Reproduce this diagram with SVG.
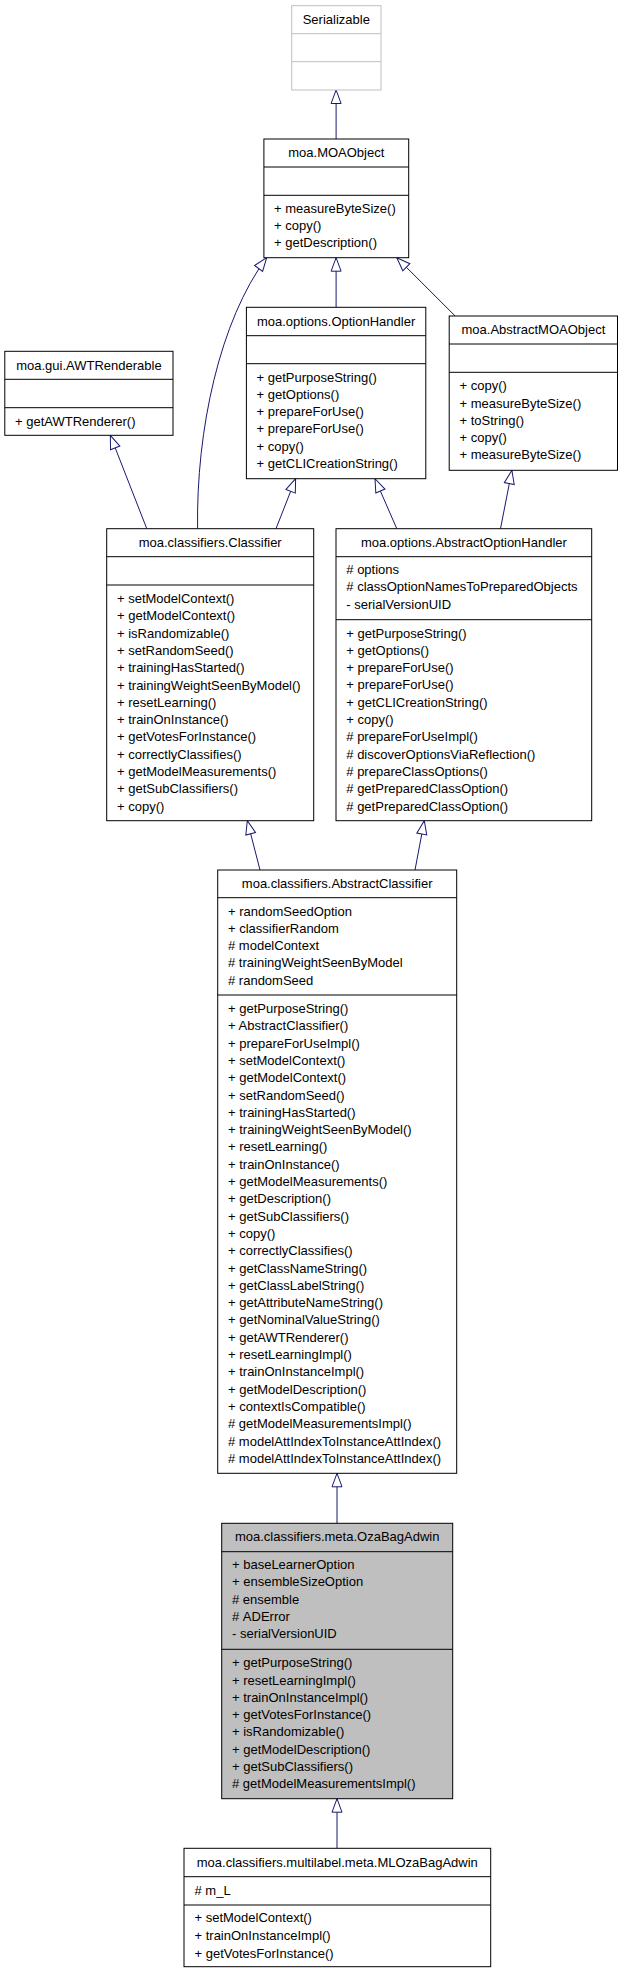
<svg xmlns="http://www.w3.org/2000/svg" width="624" height="1973" viewBox="0 0 624 1973">
<style>
.box{fill:#ffffff;stroke:#000000;stroke-width:1}
.gbox{fill:#ffffff;stroke:#bfbfbf;stroke-width:1}
.hbox{fill:#bfbfbf;stroke:#000000;stroke-width:1}
.sep{stroke:#000000;stroke-width:1}
.gsep{stroke:#bfbfbf;stroke-width:1}
text{font-family:"Liberation Sans",Arial,Helvetica,sans-serif;font-size:13px;fill:#000000}
.t{text-anchor:middle}
.edge{fill:none;stroke:#191970;stroke-width:1;marker-end:url(#inh)}
</style>
<defs>
<marker id="inh" viewBox="-1 -1 16 12" markerWidth="16" markerHeight="12" refX="13.5" refY="5" orient="auto" markerUnits="userSpaceOnUse">
<path d="M0,0 L13.5,5 L0,10 Z" fill="#ffffff" stroke="#191970" stroke-width="1"/>
</marker>
</defs>
<rect width="624" height="1973" fill="#ffffff"/>

<g id="connectors">
<path class="edge" d="M336.1,139 L336.1,90"/>
<path class="edge" d="M336.1,307.3 L336.1,257.7"/>
<path class="edge" d="M455.2,316 L396.8,257.7"/>
<path class="edge" d="M197.6,528.7 C196,430 220,320 266.7,257.7"/>
<path class="edge" d="M146.8,528.7 L110.3,435.3"/>
<path class="edge" d="M276,528.7 L295.6,478.7"/>
<path class="edge" d="M396.8,528.7 L375,478.7"/>
<path class="edge" d="M500.5,528.7 L511.9,470.3"/>
<path class="edge" d="M260,870 L247.3,820.7"/>
<path class="edge" d="M415,870 L424.3,820.7"/>
<path class="edge" d="M337,1523.3 L337,1473.3"/>
<path class="edge" d="M337,1848.3 L337,1798.7"/>
</g>

<g id="Serializable">
<rect class="gbox" x="291.7" y="5.7" width="89.3" height="84.3"/>
<line class="gsep" x1="291.7" y1="33.7" x2="381" y2="33.7"/>
<line class="gsep" x1="291.7" y1="61.7" x2="381" y2="61.7"/>
<text class="t" x="336.3" y="24">Serializable</text>
</g>

<g id="MOAObject">
<rect class="box" x="263.9" y="139" width="144.8" height="118.7"/>
<line class="sep" x1="263.9" y1="167" x2="408.7" y2="167"/>
<line class="sep" x1="263.9" y1="195.3" x2="408.7" y2="195.3"/>
<text class="t" x="336.3" y="157.3">moa.MOAObject</text>
<text x="274" y="213.2">+ measureByteSize()</text>
<text x="274" y="230.2">+ copy()</text>
<text x="274" y="247.2">+ getDescription()</text>
</g>

<g id="OptionHandler">
<rect class="box" x="246.4" y="307.3" width="179.4" height="171.4"/>
<line class="sep" x1="246.4" y1="335.7" x2="425.8" y2="335.7"/>
<line class="sep" x1="246.4" y1="363.7" x2="425.8" y2="363.7"/>
<text class="t" x="336.1" y="325.5">moa.options.OptionHandler</text>
<text x="256.5" y="381.5">+ getPurposeString()</text>
<text x="256.5" y="398.8">+ getOptions()</text>
<text x="256.5" y="416.1">+ prepareForUse()</text>
<text x="256.5" y="433.4">+ prepareForUse()</text>
<text x="256.5" y="450.7">+ copy()</text>
<text x="256.5" y="468">+ getCLICreationString()</text>
</g>

<g id="AbstractMOAObject">
<rect class="box" x="449.2" y="316" width="168.3" height="154.3"/>
<line class="sep" x1="449.2" y1="344" x2="617.5" y2="344"/>
<line class="sep" x1="449.2" y1="372.3" x2="617.5" y2="372.3"/>
<text class="t" x="533.4" y="334.2">moa.AbstractMOAObject</text>
<text x="459.5" y="390.2">+ copy()</text>
<text x="459.5" y="407.5">+ measureByteSize()</text>
<text x="459.5" y="424.8">+ toString()</text>
<text x="459.5" y="442.1">+ copy()</text>
<text x="459.5" y="459.4">+ measureByteSize()</text>
</g>

<g id="AWTRenderable">
<rect class="box" x="4.8" y="351.3" width="168.2" height="84"/>
<line class="sep" x1="4.8" y1="379.3" x2="173" y2="379.3"/>
<line class="sep" x1="4.8" y1="407.7" x2="173" y2="407.7"/>
<text class="t" x="88.9" y="369.5">moa.gui.AWTRenderable</text>
<text x="15" y="425.5">+ getAWTRenderer()</text>
</g>

<g id="Classifier">
<rect class="box" x="106.7" y="528.7" width="207" height="292"/>
<line class="sep" x1="106.7" y1="556.7" x2="313.7" y2="556.7"/>
<line class="sep" x1="106.7" y1="585" x2="313.7" y2="585"/>
<text class="t" x="210.2" y="547">moa.classifiers.Classifier</text>
<text x="117" y="603">+ setModelContext()</text>
<text x="117" y="620.3">+ getModelContext()</text>
<text x="117" y="637.6">+ isRandomizable()</text>
<text x="117" y="654.9">+ setRandomSeed()</text>
<text x="117" y="672.2">+ trainingHasStarted()</text>
<text x="117" y="689.5">+ trainingWeightSeenByModel()</text>
<text x="117" y="706.8">+ resetLearning()</text>
<text x="117" y="724.1">+ trainOnInstance()</text>
<text x="117" y="741.4">+ getVotesForInstance()</text>
<text x="117" y="758.7">+ correctlyClassifies()</text>
<text x="117" y="776">+ getModelMeasurements()</text>
<text x="117" y="793.3">+ getSubClassifiers()</text>
<text x="117" y="810.6">+ copy()</text>
</g>

<g id="AbstractOptionHandler">
<rect class="box" x="336" y="528.7" width="255.7" height="292"/>
<line class="sep" x1="336" y1="556.7" x2="591.7" y2="556.7"/>
<line class="sep" x1="336" y1="619.7" x2="591.7" y2="619.7"/>
<text class="t" x="463.9" y="547">moa.options.AbstractOptionHandler</text>
<text x="346.3" y="574">#&#160;options</text>
<text x="346.3" y="591.3">#&#160;classOptionNamesToPreparedObjects</text>
<text x="346.3" y="608.6">- serialVersionUID</text>
<text x="346.3" y="637.5">+ getPurposeString()</text>
<text x="346.3" y="654.8">+ getOptions()</text>
<text x="346.3" y="672.1">+ prepareForUse()</text>
<text x="346.3" y="689.4">+ prepareForUse()</text>
<text x="346.3" y="706.7">+ getCLICreationString()</text>
<text x="346.3" y="724">+ copy()</text>
<text x="346.3" y="741.3">#&#160;prepareForUseImpl()</text>
<text x="346.3" y="758.6">#&#160;discoverOptionsViaReflection()</text>
<text x="346.3" y="775.9">#&#160;prepareClassOptions()</text>
<text x="346.3" y="793.2">#&#160;getPreparedClassOption()</text>
<text x="346.3" y="810.5">#&#160;getPreparedClassOption()</text>
</g>

<g id="AbstractClassifier">
<rect class="box" x="217.7" y="870" width="239" height="603.3"/>
<line class="sep" x1="217.7" y1="897.7" x2="456.7" y2="897.7"/>
<line class="sep" x1="217.7" y1="995" x2="456.7" y2="995"/>
<text class="t" x="337.2" y="887.8">moa.classifiers.AbstractClassifier</text>
<text x="228" y="915.5">+ randomSeedOption</text>
<text x="228" y="932.8">+ classifierRandom</text>
<text x="228" y="950.1">#&#160;modelContext</text>
<text x="228" y="967.4">#&#160;trainingWeightSeenByModel</text>
<text x="228" y="984.7">#&#160;randomSeed</text>
<text x="228" y="1013">+ getPurposeString()</text>
<text x="228" y="1030.3">+ AbstractClassifier()</text>
<text x="228" y="1047.6">+ prepareForUseImpl()</text>
<text x="228" y="1064.9">+ setModelContext()</text>
<text x="228" y="1082.2">+ getModelContext()</text>
<text x="228" y="1099.5">+ setRandomSeed()</text>
<text x="228" y="1116.8">+ trainingHasStarted()</text>
<text x="228" y="1134.1">+ trainingWeightSeenByModel()</text>
<text x="228" y="1151.4">+ resetLearning()</text>
<text x="228" y="1168.7">+ trainOnInstance()</text>
<text x="228" y="1186">+ getModelMeasurements()</text>
<text x="228" y="1203.3">+ getDescription()</text>
<text x="228" y="1220.6">+ getSubClassifiers()</text>
<text x="228" y="1237.9">+ copy()</text>
<text x="228" y="1255.2">+ correctlyClassifies()</text>
<text x="228" y="1272.5">+ getClassNameString()</text>
<text x="228" y="1289.8">+ getClassLabelString()</text>
<text x="228" y="1307.1">+ getAttributeNameString()</text>
<text x="228" y="1324.4">+ getNominalValueString()</text>
<text x="228" y="1341.7">+ getAWTRenderer()</text>
<text x="228" y="1359">+ resetLearningImpl()</text>
<text x="228" y="1376.3">+ trainOnInstanceImpl()</text>
<text x="228" y="1393.6">+ getModelDescription()</text>
<text x="228" y="1410.9">+ contextIsCompatible()</text>
<text x="228" y="1428.2">#&#160;getModelMeasurementsImpl()</text>
<text x="228" y="1445.5">#&#160;modelAttIndexToInstanceAttIndex()</text>
<text x="228" y="1462.8">#&#160;modelAttIndexToInstanceAttIndex()</text>
</g>

<g id="OzaBagAdwin">
<rect class="hbox" x="221.7" y="1523.3" width="231" height="275.4"/>
<line class="sep" x1="221.7" y1="1551.7" x2="452.7" y2="1551.7"/>
<line class="sep" x1="221.7" y1="1649.3" x2="452.7" y2="1649.3"/>
<text class="t" x="337.2" y="1541.3">moa.classifiers.meta.OzaBagAdwin</text>
<text x="232" y="1569">+ baseLearnerOption</text>
<text x="232" y="1586.3">+ ensembleSizeOption</text>
<text x="232" y="1603.6">#&#160;ensemble</text>
<text x="232" y="1620.9">#&#160;ADError</text>
<text x="232" y="1638.2">- serialVersionUID</text>
<text x="232" y="1667.2">+ getPurposeString()</text>
<text x="232" y="1684.5">+ resetLearningImpl()</text>
<text x="232" y="1701.8">+ trainOnInstanceImpl()</text>
<text x="232" y="1719.1">+ getVotesForInstance()</text>
<text x="232" y="1736.4">+ isRandomizable()</text>
<text x="232" y="1753.7">+ getModelDescription()</text>
<text x="232" y="1771">+ getSubClassifiers()</text>
<text x="232" y="1788.3">#&#160;getModelMeasurementsImpl()</text>
</g>

<g id="MLOzaBagAdwin">
<rect class="box" x="184" y="1848.3" width="306.7" height="118.4"/>
<line class="sep" x1="184" y1="1876.7" x2="490.7" y2="1876.7"/>
<line class="sep" x1="184" y1="1905" x2="490.7" y2="1905"/>
<text class="t" x="337.3" y="1866.6">moa.classifiers.multilabel.meta.MLOzaBagAdwin</text>
<text x="194.5" y="1894.5">#&#160;m_L</text>
<text x="194.5" y="1921.8">+ setModelContext()</text>
<text x="194.5" y="1939.8">+ trainOnInstanceImpl()</text>
<text x="194.5" y="1957.8">+ getVotesForInstance()</text>
</g>
</svg>
